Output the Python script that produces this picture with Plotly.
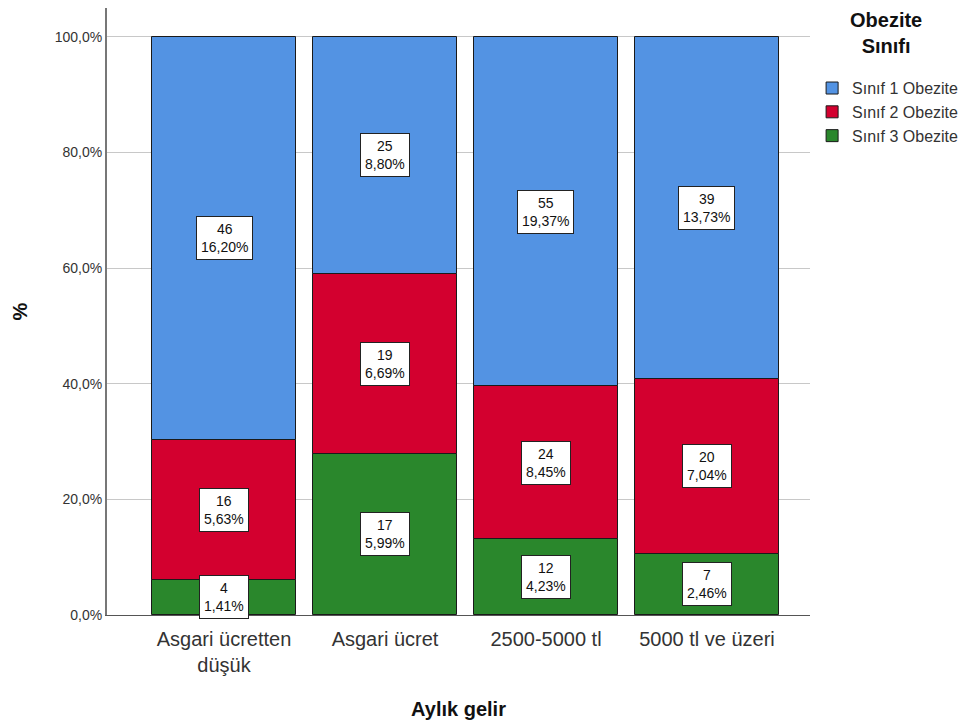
import plotly.graph_objects as go

# Monthly income groups and counts of each obesity class
categories = ["Asgari ücretten<br>düşük", "Asgari ücret", "2500-5000 tl", "5000 tl ve üzeri"]
series_names = ["Sınıf 3 Obezite", "Sınıf 2 Obezite", "Sınıf 1 Obezite"]
class3_counts = [4, 17, 12, 7]
class2_counts = [16, 19, 24, 20]
class1_counts = [46, 25, 55, 39]
series_colors = ["#2A872C", "#D3002F", "#5393E3"]

y_tick_values = [0, 20, 40, 60, 80, 100]
y_tick_labels = ["0,0%", "20,0%", "40,0%", "60,0%", "80,0%", "100,0%"]

W, H = 961, 726
M_L, M_R, M_T, M_B = 107, 151, 8, 111
PLOT_W = W - M_L - M_R
PLOT_H = H - M_T - M_B

counts = [class3_counts, class2_counts, class1_counts]
grand_total = sum(sum(c) for c in counts)
group_totals = [sum(c[i] for c in counts) for i in range(len(categories))]

x_pos = list(range(len(categories)))
fig = go.Figure()
annotations = []
base = [0.0] * len(categories)
for name, vals, color in zip(series_names, counts, series_colors):
    pct = [v / t * 100 for v, t in zip(vals, group_totals)]
    fig.add_trace(go.Bar(
        x=x_pos, y=pct, base=base, name=name,
        marker=dict(color=color, line=dict(color="#1a1a1a", width=1)),
        width=0.9, hoverinfo="skip",
    ))
    for i, (v, p) in enumerate(zip(vals, pct)):
        share = f"{v / grand_total * 100:.2f}".replace(".", ",")
        annotations.append(dict(
            x=i, y=base[i] + p / 2, xref="x", yref="y",
            text=f"{v}<br>{share}%", showarrow=False,
            font=dict(family="Arial", size=14, color="#111"),
            bgcolor="white", bordercolor="#222", borderwidth=1, borderpad=4,
        ))
    base = [b + p for b, p in zip(base, pct)]

# Legend heading, centred above the legend entries
annotations.append(dict(
    x=(886 - M_L) / PLOT_W, y=1 - (33 - M_T) / PLOT_H, xref="paper", yref="paper",
    xanchor="center", yanchor="middle",
    text="<b>Obezite<br>Sınıfı</b>", showarrow=False, align="center",
    font=dict(family="Arial", size=20, color="#111"),
))

fig.update_layout(
    width=W, height=H,
    margin=dict(l=M_L, r=M_R, t=M_T, b=M_B, autoexpand=False),
    paper_bgcolor="white", plot_bgcolor="white",
    barmode="overlay", bargap=0,
    font=dict(family="Arial", color="#222"),
    annotations=annotations,
    legend=dict(
        traceorder="reversed",
        x=1.003, xanchor="left", y=0.896, yanchor="top",
        font=dict(family="Arial", size=16, color="#333"),
        itemclick=False, tracegroupgap=0,
    ),
    xaxis=dict(
        range=[-0.727, 3.64], tickmode="array", tickvals=x_pos, ticktext=categories,
        tickfont=dict(family="Arial", size=20, color="#333"), ticklabelstandoff=6,
        showgrid=False, zeroline=False, showline=True, linecolor="#555", linewidth=1,
        ticks="", title=dict(text="<b>Aylık gelir</b>", font=dict(family="Arial", size=20, color="#111"),
                             standoff=26),
    ),
    yaxis=dict(
        range=[0, 105], tickmode="array", tickvals=y_tick_values, ticktext=y_tick_labels,
        tickfont=dict(family="Arial", size=14, color="#333"),
        showgrid=True, gridcolor="#c8c8c8", gridwidth=1, zeroline=False,
        showline=True, linecolor="#777", linewidth=2, ticks="", ticklen=0,
        title=dict(text="<b>%</b>", font=dict(family="Arial", size=20, color="#111"), standoff=22),
    ),
)

fig.write_html("out.html")
